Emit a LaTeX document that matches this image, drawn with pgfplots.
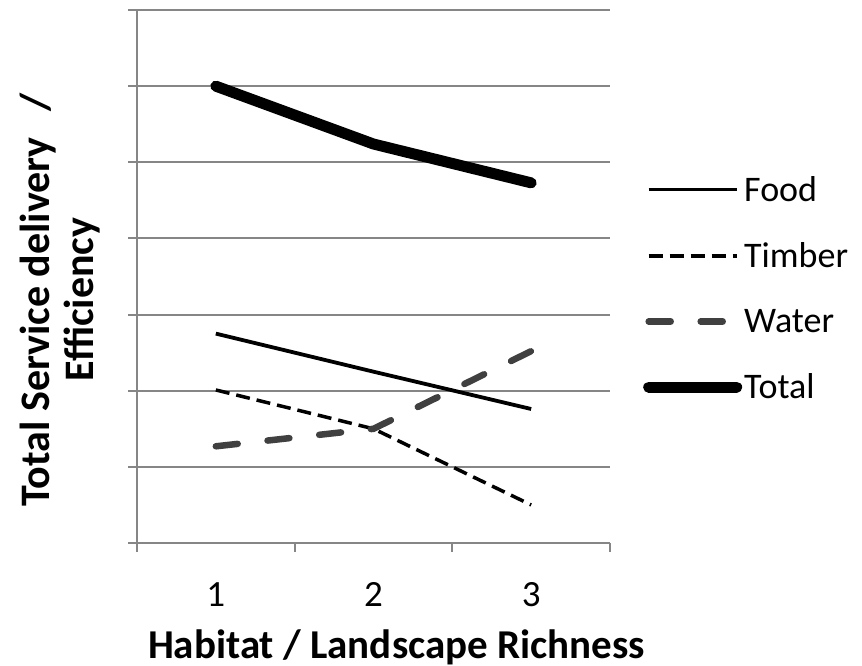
\documentclass[border=0pt]{standalone}
\usepackage{fontspec}
\setmainfont{Carlito}
\usepackage{pgfplots}
\pgfplotsset{compat=1.18}
\definecolor{gridgray}{RGB}{134,134,134}
\definecolor{watergray}{RGB}{64,64,64}
\begin{document}
\begin{tikzpicture}
\begin{axis}[
  name=ax,
  scale only axis,
  width=473pt, height=533pt,
  xmin=0.5, xmax=3.5, ymin=0, ymax=7,
  axis x line=bottom, axis y line=left,
  axis line style={-, draw=gridgray, line width=2pt},
  xtick={0.5,1.5,2.5,3.5}, xticklabels={},
  extra x ticks={1,2,3}, extra x tick labels={1,2,3},
  extra x tick style={major tick length=0pt, grid=none},
  ytick={0,1,...,7}, yticklabels={},
  ymajorgrids,
  grid style={draw=gridgray, line width=2pt},
  tick align=outside,
  major tick length=9pt,
  tick style={draw=gridgray, line width=2pt},
  /pgf/number format/assume math mode=true,
  ticklabel style={font=\fontsize{37}{44}\selectfont},
  xticklabel style={yshift=-36pt},
  xlabel={\textbf{Habitat / Landscape Richness}},
  xlabel style={font=\fontsize{41}{49}\selectfont, at={(axis description cs:0.5,0)}, anchor=base, xshift=23pt, yshift=-115pt},
  ylabel={\textbf{Total Service delivery~~\,/}\\\textbf{Efficiency}},
  ylabel style={font=\fontsize{42}{44}\selectfont, align=center, at={(axis description cs:-0.163,0.457)}, anchor=center},
  legend style={at={(axis description cs:1,0.478)}, anchor=west, xshift=30pt, draw=none, fill=none, font=\fontsize{36}{43}\selectfont, row sep=36pt, cells={anchor=west}},
  legend cell align=left,
  legend image code/.code={\draw[#1] (0pt,0pt) -- (88pt,0pt);},
  clip=false,
]
\addplot[black, line width=3.8pt] coordinates {(1,2.75) (2,2.25) (3,1.76)};
\addlegendentry{Food}
\addplot[black, line width=3.5pt, dash pattern=on 14pt off 7pt] coordinates {(1,2.01) (2,1.5) (3,0.5)};
\addlegendentry{Timber}
\addplot[watergray, line width=6.5pt, line cap=round, dash pattern=on 22pt off 30pt] coordinates {(1,1.27) (2,1.5) (3,2.52)};
\addlegendentry{Water}
\addplot[black, line width=11pt, line cap=round, line join=round] coordinates {(1,6.0) (2,5.24) (3,4.73)};
\addlegendentry{Total}
\end{axis}
\pgfresetboundingbox
\path (ax.south west) ++(-137pt,-122pt) rectangle ++(862pt,665pt);
\end{tikzpicture}
\end{document}
